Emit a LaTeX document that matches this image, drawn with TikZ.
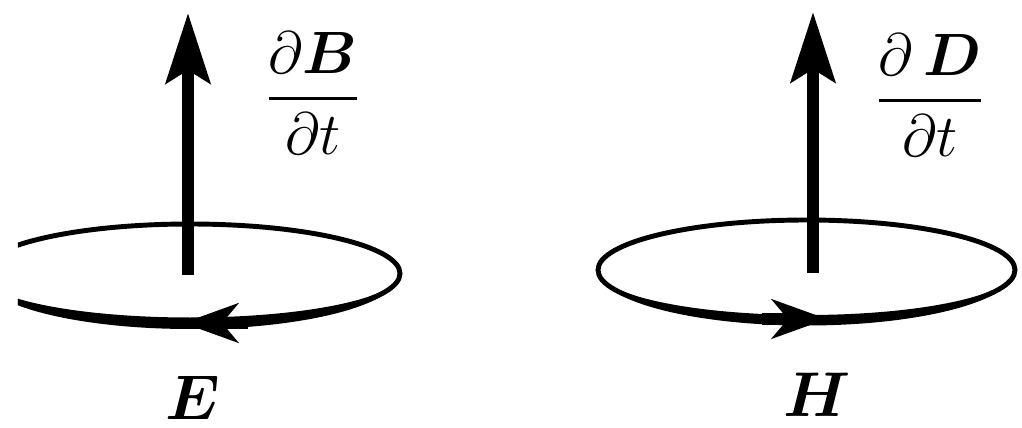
\documentclass[tikz,border=0pt]{standalone}
\usepackage{fix-cm}
\usepackage{amsmath,bm}
\usetikzlibrary{arrows.meta, positioning}

\begin{document}
\begin{tikzpicture}[
        field/.style = {line width = 3.4pt, -{Stealth[length = 7mm, width = 4.4mm, inset = 1.3mm]}},
        ring/.style = {line width = 1.4pt},
        ringtip/.style = {line width = 3.4pt, -{Stealth[length = 5.5mm, width = 3.9mm, inset = 1.6mm]}},
        frac/.style = {font = \fontsize{17}{21}\selectfont, inner sep = 0pt},
        vec/.style = {font = \fontsize{18}{22}\selectfont, inner sep = 0pt}
    ]
      \useasboundingbox (0,0) rectangle (10.22,4.27);

      % left: changing B, induced E
      \coordinate (eBot) at (1.88,1.52);
      \coordinate (eTop) at (1.88,4.14);
      \coordinate (eC) at (1.90,1.535);
      \coordinate (eTip) at (1.83,1.04);
      \begin{scope}
        \clip (0.18,0) rectangle (5,4.27);
        \draw[ring] (eC) ellipse [x radius = 2.1, y radius = 0.495];
        \fill ([xshift = 2.1cm]eC) arc [start angle = 0, end angle = -180, x radius = 2.1, y radius = 0.555]
          arc [start angle = 180, end angle = 360, x radius = 2.1, y radius = 0.44] -- cycle;
      \end{scope}
      \draw[ringtip] ([xshift = 6.5mm]eTip) -- (eTip);
      \draw[field] (eBot) -- (eTop);
      \node[frac] (dB) at ([xshift = 1.25cm, yshift = -0.80cm]eTop) {$\dfrac{\partial\bm{B}}{\partial t}$};
      \node[vec] (E) at ([xshift = 0.05cm, yshift = -1.23cm]eBot) {$\bm{E}$};

      % right: changing D, induced H
      \coordinate (hBot) at (8.13,1.54);
      \coordinate (hTop) at (8.13,4.15);
      \coordinate (hC) at (8.065,1.57);
      \coordinate (hTip) at (8.27,1.08);
      \draw[ring] (hC) ellipse [x radius = 2.085, y radius = 0.50];
      \fill ([xshift = 2.085cm]hC) arc [start angle = 0, end angle = -180, x radius = 2.085, y radius = 0.555]
        arc [start angle = 180, end angle = 360, x radius = 2.085, y radius = 0.45] -- cycle;
      \draw[ringtip] ([xshift = -6.5mm]hTip) -- (hTip);
      \draw[field] (hBot) -- (hTop);
      \node[frac] (dD) at ([xshift = 1.17cm, yshift = -0.83cm]hTop) {$\dfrac{\partial\,\bm{D}}{\partial t}$};
      \node[vec] (H) at ([xshift = 0.04cm, yshift = -1.22cm]hBot) {$\bm{H}$};
    \end{tikzpicture}
\end{document}
